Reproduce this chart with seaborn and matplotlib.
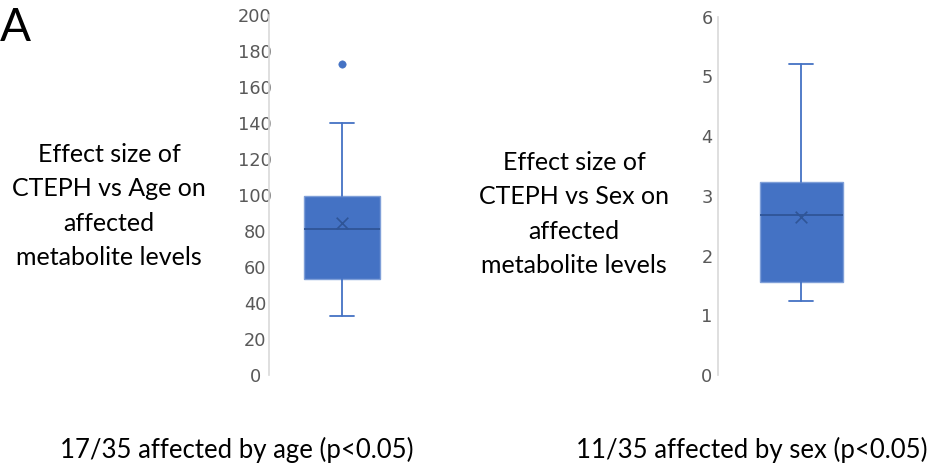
import matplotlib
matplotlib.use("Agg")
import matplotlib.pyplot as plt
import seaborn as sns

# Box-plot summary statistics (Excel-style: whiskers, quartiles, median, mean, outliers)
groups = ["Age", "Sex"]
whisker_low = [32.9, 1.245]
q1 = [53.1, 1.56]
median = [81.3, 2.68]
q3 = [99.4, 3.24]
whisker_high = [140.0, 5.21]
mean = [84.3, 2.65]
outliers = [[172.8], []]

y_ticks = [[0, 20, 40, 60, 80, 100, 120, 140, 160, 180, 200], [0, 1, 2, 3, 4, 5, 6]]
y_labels = [
    "Effect size of\nCTEPH vs Age on\naffected\nmetabolite levels",
    "Effect size of\nCTEPH vs Sex on\naffected\nmetabolite levels",
]
captions = ["17/35 affected by age (p<0.05)", "11/35 affected by sex (p<0.05)"]
panel_letter = "A"

sns.set_theme(style="white")
plt.rcParams["font.family"] = ["Lato", "DejaVu Sans"]

BLUE = "#4472C4"
DARK = "#2F5597"
EDGE = "#7F9FD8"
GRID = "#D9D9D9"
TICK = "#595959"

W, H = 930, 468
fig = plt.figure(figsize=(W / 100, H / 100), dpi=100)

# axes extents in pixels: (left, right, top, bottom)
extents = [(269, 415, 15, 375), (718, 884, 16.7, 375)]
box_widths = [0.527, 0.5]
tick_pad = [10, 8]
label_x = [109, 574]
label_y = [206, 214]
caption_x = [237, 752]

for i, g in enumerate(groups):
    l, r, t, b = extents[i]
    ax = fig.add_axes([l / W, 1 - b / H, (r - l) / W, (b - t) / H])
    stats = [dict(whislo=whisker_low[i], q1=q1[i], med=median[i], q3=q3[i],
                  whishi=whisker_high[i], fliers=outliers[i], label=g)]
    ax.bxp(stats, positions=[0], widths=box_widths[i], patch_artist=True,
           showfliers=False, showcaps=True,
           boxprops=dict(facecolor=BLUE, edgecolor=EDGE, linewidth=1.0),
           medianprops=dict(color=DARK, linewidth=1.3),
           whiskerprops=dict(color=BLUE, linewidth=1.3),
           capprops=dict(color=BLUE, linewidth=1.3),
           capwidths=box_widths[i] * 0.3)
    # mean marker
    sns.scatterplot(x=[0], y=[mean[i]], marker="x", s=70, color=DARK,
                    linewidth=1.2, ax=ax, zorder=5)
    # outlying points
    if outliers[i]:
        sns.scatterplot(x=[0] * len(outliers[i]), y=outliers[i], s=28,
                        color=BLUE, edgecolor=BLUE, ax=ax, zorder=5)
    ax.set_xlim(-0.5, 0.5)
    ax.set_ylim(y_ticks[i][0], y_ticks[i][-1])
    ax.set_yticks(y_ticks[i])
    ax.set_yticklabels([str(v) for v in y_ticks[i]], color=TICK, fontsize=12.8,
                       family=["DejaVu Sans"], ha="center")
    ax.set_xticks([])
    ax.tick_params(axis="y", length=0, pad=tick_pad[i])
    for s in ["top", "right", "bottom"]:
        ax.spines[s].set_visible(False)
    ax.spines["left"].set_color(GRID)
    ax.spines["left"].set_linewidth(1.2)
    ax.set_facecolor("none")

    fig.text(label_x[i] / W, 1 - label_y[i] / H, y_labels[i], ha="center",
             va="center", fontsize=18, linespacing=1.58, color="black")
    fig.text(caption_x[i] / W, 1 - 450 / H, captions[i], ha="center",
             va="center", fontsize=18.5, color="black")

fig.text(0 / W, 1 - 28 / H, panel_letter, ha="left", va="center",
         fontsize=33, color="black")

fig.savefig("out.png", dpi=100, facecolor="white")
